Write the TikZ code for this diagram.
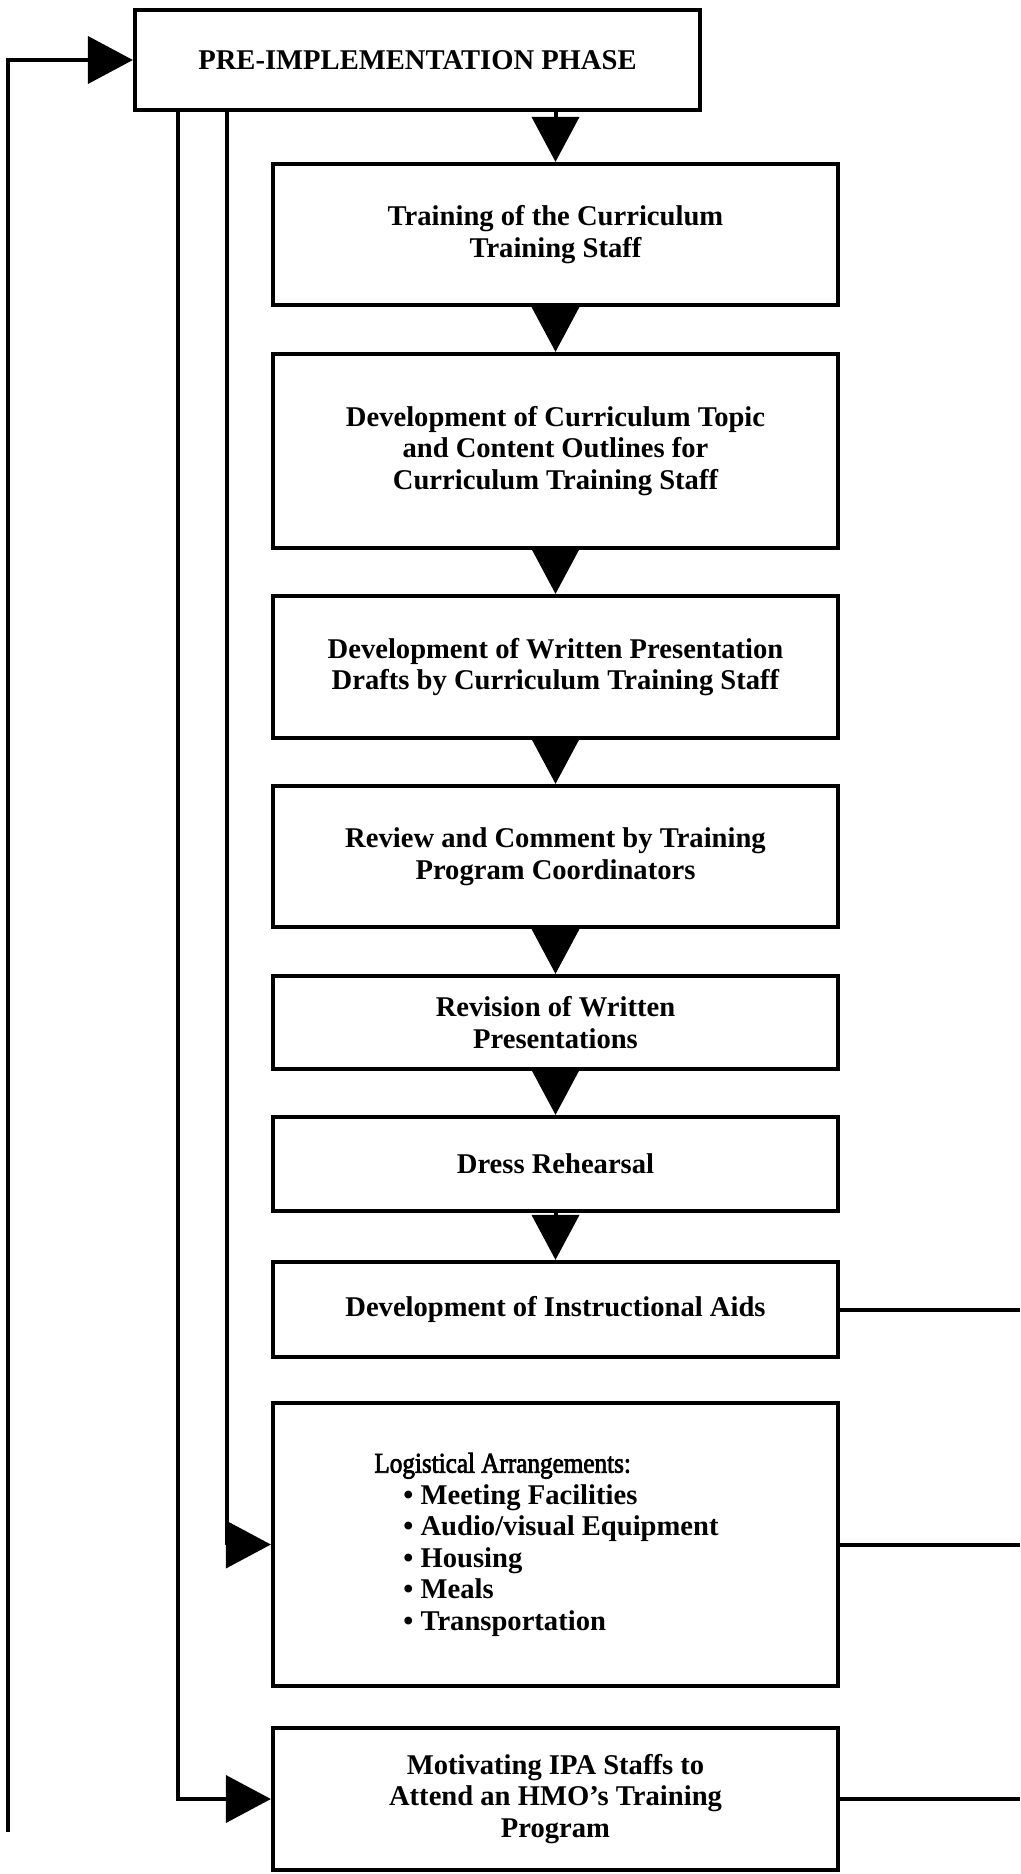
\documentclass[tikz,border=0pt]{standalone}
\usepackage{fontspec}
\setmainfont{Liberation Serif}
\newfontfamily\headfont[FakeStretch=0.88,FakeBold=2.5]{Liberation Serif}
\usetikzlibrary{arrows.meta}
\newcommand\labelfont{\fontsize{28.6pt}{31.5pt}\selectfont\bfseries}
\begin{document}
\begin{tikzpicture}[x=1pt,y=-1pt,
  box/.style={draw, rectangle, line width=4.2pt, minimum width=565pt,
    align=center, inner sep=0pt, font=\labelfont},
  wire/.style={line width=4pt},
  arr/.style={wire, -{Triangle[length=45pt,width=47pt]}},
]
\useasboundingbox (0,0) rectangle (1020,1874);
\fill[white] (0,0) rectangle (1020,1874);

% phase header
\node[box, minimum height=100pt] (pre) at (417.5,60) {PRE-IMPLEMENTATION PHASE};

% main sequence of steps
\node[box, minimum height=141pt] (train) at (555.5,234.5)
  {Training of the Curriculum\\Training Staff};
\node[box, minimum height=194pt] (topic) at (555.5,451)
  {Development of Curriculum Topic\\and Content Outlines for\\Curriculum Training Staff};
\node[box, minimum height=142pt] (drafts) at (555.5,667)
  {Development of Written Presentation\\Drafts by Curriculum Training Staff};
\node[box, minimum height=141pt] (review) at (555.5,856.5)
  {Review and Comment by Training\\Program Coordinators};
\node[box, minimum height=93pt] (revise) at (555.5,1022.5)
  {Revision of Written\\Presentations};
\node[box, minimum height=94pt] (dress) at (555.5,1164)
  {Dress Rehearsal};
\node[box, minimum height=95pt] (aids) at (555.5,1309.5)
  {Development of Instructional Aids};
\node[box, minimum height=283pt, align=left] (logi) at (555.5,1544.5)
  {{\headfont\mdseries Logistical Arrangements:}\\
   \hspace*{29pt}\textbullet\ Meeting Facilities\\
   \hspace*{29pt}\textbullet\ Audio/visual Equipment\hspace*{18pt}\mbox{}\\
   \hspace*{29pt}\textbullet\ Housing\\
   \hspace*{29pt}\textbullet\ Meals\\
   \hspace*{29pt}\textbullet\ Transportation};
\node[box, minimum height=142pt] (mot) at (555.5,1799)
  {Motivating IPA Staffs to\\Attend an HMO’s Training\\Program};

% downward flow
\draw[arr] (pre.south -| train.north) -- (train.north);
\draw[arr] (train.south) -- (topic.north);
\draw[arr] (topic.south) -- (drafts.north);
\draw[arr] (drafts.south) -- (review.north);
\draw[arr] (review.south) -- (revise.north);
\draw[arr] (revise.south) -- (dress.north);
\draw[arr] (dress.south) -- (aids.north);

% branches from the header on the left
\coordinate (tapA) at (178,0);
\coordinate (tapB) at (227,0);
\draw[arr] (pre.south -| tapA) |- (mot.west);
\draw[arr] (pre.south -| tapB) |- (logi.west);

% return line along the left margin
\coordinate (ret) at (8,1832);
\draw[arr] (ret) |- (pre.west);

% outputs leaving on the right
\coordinate (rim) at (1020,0);
\draw[wire] (aids.east) -- (aids.east -| rim);
\draw[wire] (logi.east) -- (logi.east -| rim);
\draw[wire] (mot.east) -- (mot.east -| rim);
\end{tikzpicture}
\end{document}
